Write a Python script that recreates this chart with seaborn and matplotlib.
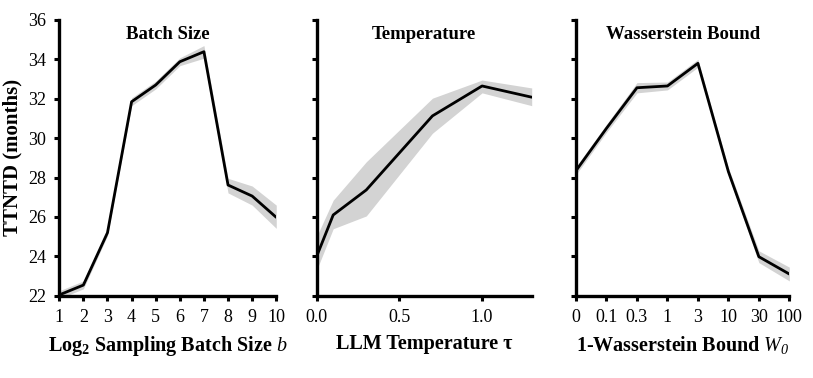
import numpy as np
import matplotlib
matplotlib.use("Agg")
import matplotlib.pyplot as plt
import seaborn as sns

# === data ===
batch_x = [1, 2, 3, 4, 5, 6, 7, 8, 9, 10]
batch_mean = [22.04, 22.54, 25.2, 31.85, 32.7, 33.88, 34.39, 27.62, 27.06, 25.98]
batch_lo = [21.85, 22.35, 25.05, 31.65, 32.5, 33.68, 34.06, 27.22, 26.6, 25.42]
batch_hi = [22.25, 22.75, 25.35, 32.05, 32.9, 34.08, 34.7, 27.96, 27.57, 26.6]

temp_x = [0.0, 0.1, 0.3, 0.7, 1.0, 1.3]
temp_mean = [24.0, 26.1, 27.37, 31.13, 32.65, 32.08]
temp_lo = [23.3, 25.4, 26.05, 30.25, 32.3, 31.65]
temp_hi = [25.0, 26.85, 28.8, 32.03, 32.95, 32.55]

w_labels = ["0", "0.1", "0.3", "1", "3", "10", "30", "100"]
w_mean = [28.35, 30.5, 32.56, 32.65, 33.8, 28.3, 23.98, 23.1]
w_lo = [28.15, 30.3, 32.3, 32.45, 33.6, 28.1, 23.68, 22.75]
w_hi = [28.55, 30.7, 32.82, 32.85, 34.0, 28.5, 24.28, 23.45]

titles = ["Batch Size", "Temperature", "Wasserstein Bound"]
# \mathsf is mapped to italic serif below, so the subscript 0 comes out italic
xlabels = [r"Log$_\mathbf{2}$ Sampling Batch Size $b$",
           "LLM Temperature τ",
           r"1-Wasserstein Bound $W_\mathsf{0}$"]
ylabel = "TTNTD (months)"
yticks = [22, 24, 26, 28, 30, 32, 34, 36]

# === style ===
sns.set_style("ticks", {"axes.edgecolor": "black", "xtick.color": "black",
                         "ytick.color": "black", "text.color": "black",
                         "axes.labelcolor": "black"})
plt.rcParams["font.family"] = ["Liberation Serif", "DejaVu Serif"]
plt.rcParams["mathtext.fontset"] = "custom"
plt.rcParams["mathtext.rm"] = "Liberation Serif"
plt.rcParams["mathtext.it"] = "Liberation Serif:italic"
plt.rcParams["mathtext.bf"] = "Liberation Serif:bold"
plt.rcParams["mathtext.sf"] = "Liberation Serif:italic"

fig = plt.figure(figsize=(8.13, 3.78), dpi=100)
bottom, height = 0.2177, 0.7294
boxes = [(0.0729, 0.2669), (0.3895, 0.2645), (0.7085, 0.2624)]
axes = [fig.add_axes([l, bottom, w, height]) for l, w in boxes]

panels = [
    (np.array(batch_x), batch_mean, batch_lo, batch_hi),
    (np.array(temp_x), temp_mean, temp_lo, temp_hi),
    (np.arange(len(w_labels)), w_mean, w_lo, w_hi),
]

for i, (ax, (x, m, lo, hi)) in enumerate(zip(axes, panels)):
    ax.fill_between(x, lo, hi, color="#d3d3d3", lw=0, zorder=1)
    sns.lineplot(x=x, y=m, ax=ax, color="black", lw=2.0, zorder=3)
    ax.set_ylim(22, 36)
    ax.set_yticks(yticks)
    ax.set_xlim(x[0], x[-1])
    for s in ["top", "right"]:
        ax.spines[s].set_visible(False)
    for s in ["left", "bottom"]:
        ax.spines[s].set_linewidth(2.4)
        ax.spines[s].set_color("black")
    ax.tick_params(axis="both", direction="out", length=3.6, width=2.2,
                   labelsize=13, pad=6, colors="black")
    ax.set_title(titles[i], fontsize=13.5, fontweight="bold", y=0.93, pad=0)
    ax.set_xlabel(xlabels[i], fontsize=14.5, fontweight="bold", labelpad=6)
    if i == 0:
        ax.set_ylabel(ylabel, fontsize=15, fontweight="bold", labelpad=4)
    else:
        ax.set_yticklabels([])

axes[0].set_xticks(batch_x)
axes[1].set_xlim(0, 1.3)
axes[1].set_xticks([0.0, 0.5, 1.0])
axes[1].set_xticklabels(["0.0", "0.5", "1.0"])
axes[2].set_xticks(np.arange(len(w_labels)))
axes[2].set_xticklabels(w_labels)

fig.savefig("out.png", dpi=100)
